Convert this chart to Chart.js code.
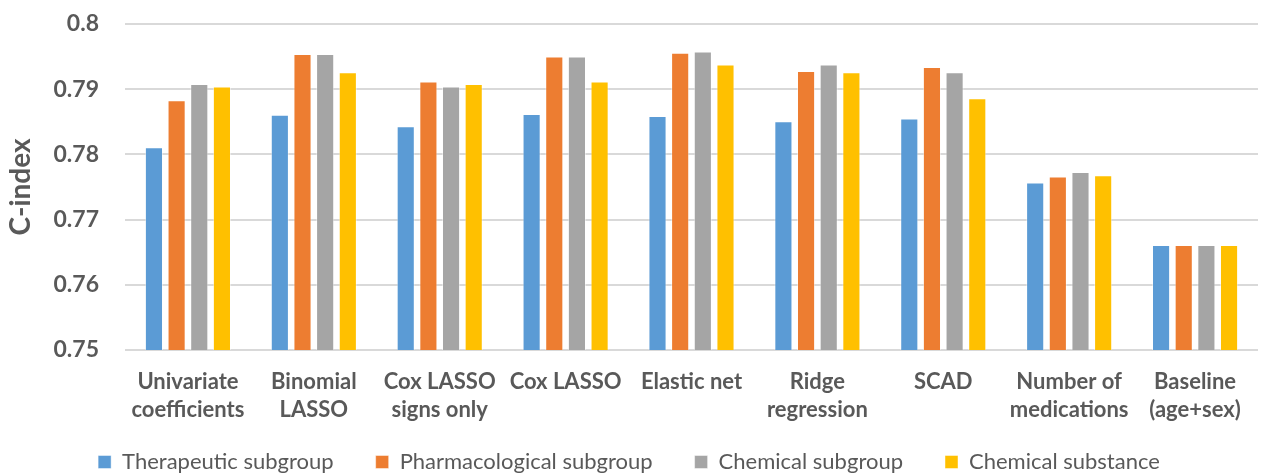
<!DOCTYPE html>
<html lang="en">
<head>
    <meta charset="UTF-8">
    <script src="https://cdn.jsdelivr.net/npm/chart.js"></script>
    <title>C-index</title>
    <style>
        html, body { margin: 0; padding: 0; background: #fff; }
        .box { width: 1263px; height: 475px; }
    </style>
</head>
<body>
    <div class="box">
        <canvas id="grafico"></canvas>
    </div>

<script>
    // categorias (rótulos do eixo x, com quebra de linha)
    const categorias = [
        ['Univariate', 'coefficients'],
        ['Binomial', 'LASSO'],
        ['Cox LASSO', 'signs only'],
        'Cox LASSO',
        'Elastic net',
        ['Ridge', 'regression'],
        'SCAD',
        ['Number of', 'medications'],
        ['Baseline', '(age+sex)']
    ];

    // valores de C-index por série
    const therapeutic     = [0.7811, 0.7861, 0.7843, 0.7862, 0.7859, 0.7851, 0.7855, 0.7757, 0.7661];
    const pharmacological = [0.7883, 0.7954, 0.7912, 0.7950, 0.7956, 0.7928, 0.7934, 0.7766, 0.7661];
    const chemicalSub     = [0.7908, 0.7954, 0.7904, 0.7950, 0.7958, 0.7938, 0.7926, 0.7773, 0.7661];
    const chemicalSubst   = [0.7904, 0.7926, 0.7908, 0.7912, 0.7938, 0.7926, 0.7886, 0.7768, 0.7661];

    const yTicks = [0.75, 0.76, 0.77, 0.78, 0.79, 0.8];

    const cinza = '#595959';
    const fonte = 'Lato, "Open Sans", sans-serif';

    function serie(nome, dados, cor) {
        return {
            label: nome,
            data: dados,
            backgroundColor: cor,
            borderColor: 'rgba(255,255,255,0.45)',
            borderWidth: 1,
            categoryPercentage: 0.72,
            barPercentage: 0.8
        };
    }

    const dados = {
        labels: categorias,
        datasets: [
            serie('Therapeutic subgroup', therapeutic, '#5B9BD5'),
            serie('Pharmacological subgroup', pharmacological, '#ED7D31'),
            serie('Chemical subgroup', chemicalSub, '#A5A5A5'),
            serie('Chemical substance', chemicalSubst, '#FFC000')
        ]
    };

    // legenda: altura fixa e desenhada um pouco mais acima
    const ajusteLegenda = {
        id: 'ajusteLegenda',
        beforeInit(chart) {
            const fitOriginal = chart.legend.fit;
            chart.legend.fit = function () {
                fitOriginal.bind(chart.legend)();
                this.height = 47;
            };
        },
        afterLayout(chart) {
            const leg = chart.legend;
            leg.top = leg.bottom - 66;
        }
    };

    const config = {
        type: 'bar',
        data: dados,
        plugins: [ajusteLegenda],
        options: {
            responsive: true,
            maintainAspectRatio: false,
            animation: false,
            layout: { padding: { left: 0, right: 5, top: 24, bottom: 0 } },
            plugins: {
                tooltip: { enabled: false },
                legend: {
                    position: 'bottom',
                    labels: {
                        boxWidth: 13,
                        boxHeight: 13,
                        padding: 42,
                        color: cinza,
                        font: { family: fonte, size: 22 }
                    }
                }
            },
            scales: {
                x: {
                    grid: { display: false },
                    border: { display: false },
                    afterFit: function (axis) { axis.height = 78; },
                    ticks: {
                        color: cinza,
                        maxRotation: 0,
                        autoSkip: false,
                        padding: 10,
                        font: { family: fonte, size: 22, weight: 'bold', lineHeight: 1.28 }
                    }
                },
                y: {
                    min: 0.75,
                    max: 0.8,
                    afterBuildTicks: function (axis) {
                        axis.ticks = yTicks.map(v => ({ value: v }));
                    },
                    afterFit: function (axis) { axis.width = 125; },
                    grid: {
                        color: '#D9D9D9',
                        lineWidth: 2,
                        drawTicks: true,
                        tickLength: 22,
                        tickColor: 'rgba(0,0,0,0)'
                    },
                    border: { display: false },
                    title: {
                        display: true,
                        text: 'C-index',
                        color: cinza,
                        padding: { top: 4, bottom: 4 },
                        font: { family: fonte, size: 28, weight: 'bold' }
                    },
                    ticks: {
                        color: cinza,
                        padding: 4,
                        font: { family: fonte, size: 23, weight: 'bold' },
                        callback: function (v) { return String(Number(v.toFixed(2))); }
                    }
                }
            }
        }
    };

    new Chart(document.getElementById('grafico'), config);
</script>
</body>
</html>
